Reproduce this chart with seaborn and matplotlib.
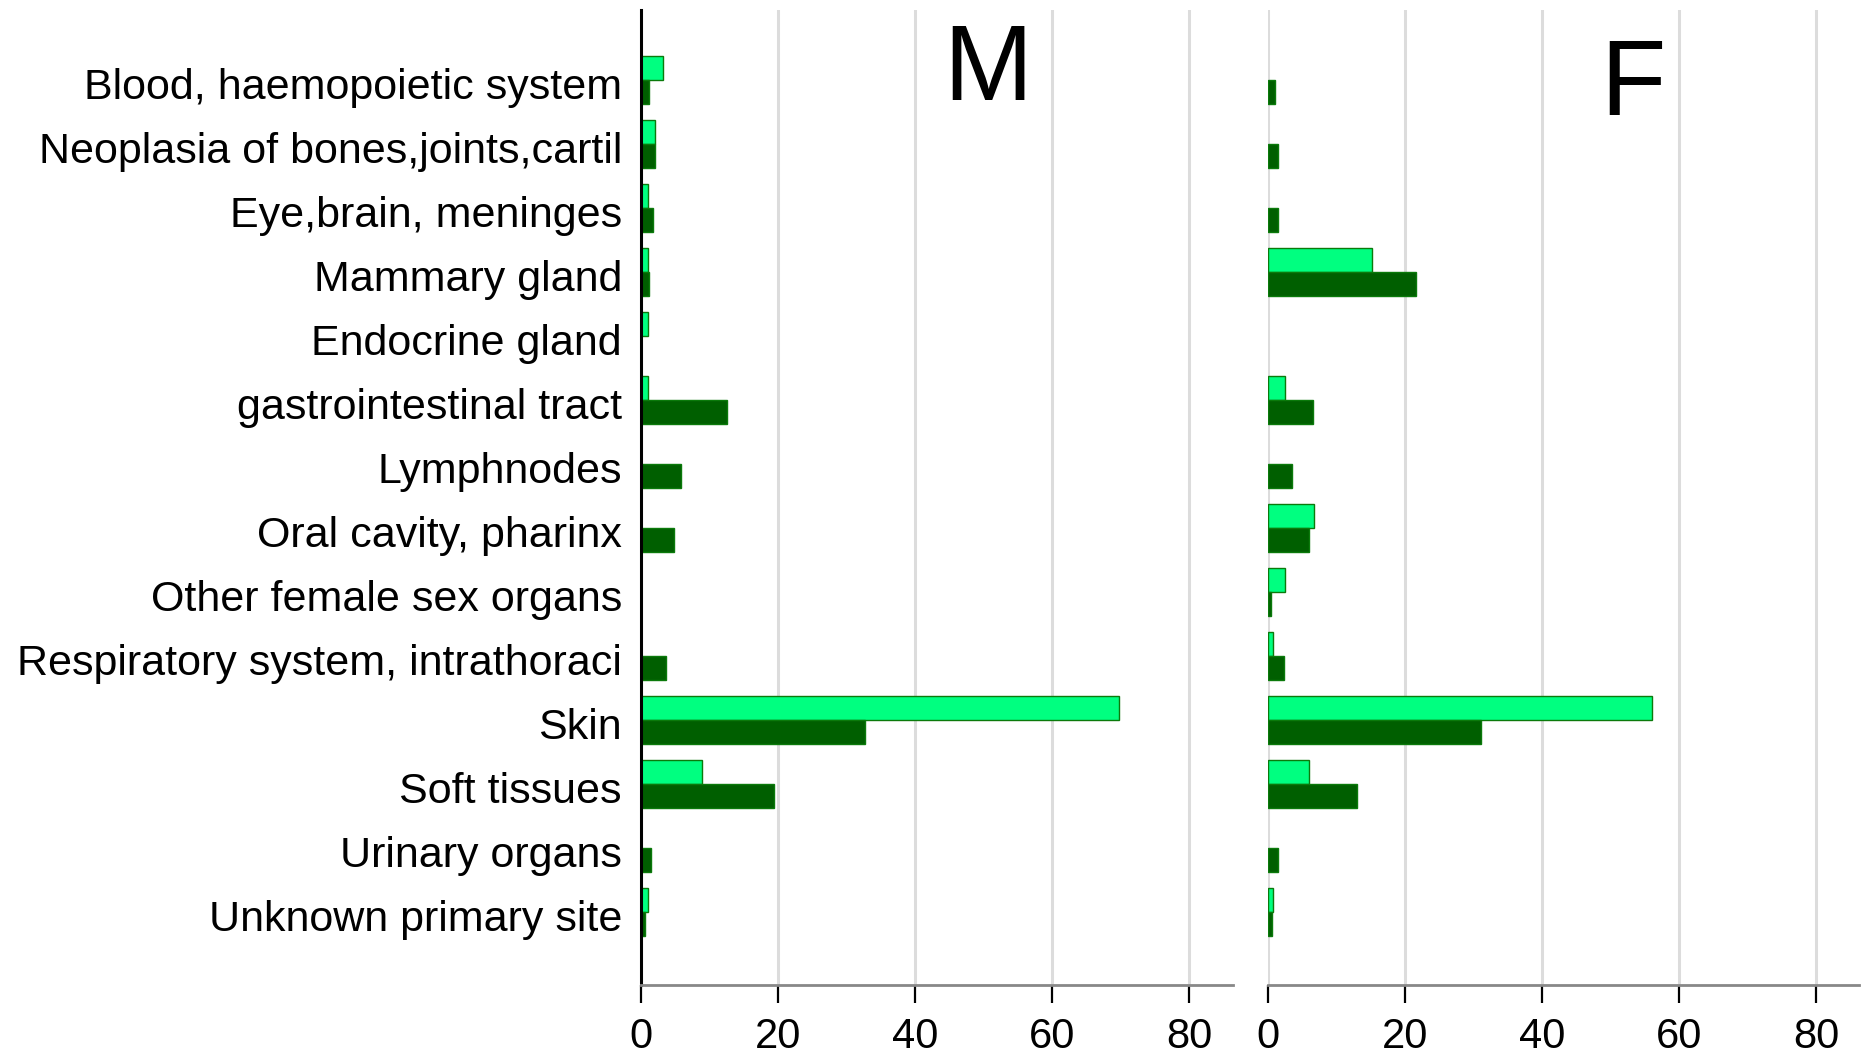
import numpy as np
import pandas as pd
import matplotlib
matplotlib.use("Agg")
import matplotlib.pyplot as plt
import matplotlib.transforms as mtransforms
import seaborn as sns

categories = [
    "Blood, haemopoietic system",
    "Neoplasia of bones,joints,cartil",
    "Eye,brain, meninges",
    "Mammary gland",
    "Endocrine gland",
    "gastrointestinal tract",
    "Lymphnodes",
    "Oral cavity, pharinx",
    "Other female sex organs",
    "Respiratory system, intrathoraci",
    "Skin",
    "Soft tissues",
    "Urinary organs",
    "Unknown primary site",
]
male_light = [3.2, 2.05, 0.9, 0.9, 0.9, 0.9, 0.0, 0.0, 0.0, 0.0, 69.7, 8.8, 0.0, 0.9]
male_dark = [1.07, 1.95, 1.7, 1.07, 0.0, 12.5, 5.75, 4.8, 0.0, 3.6, 32.7, 19.4, 1.4, 0.45]
female_light = [0.0, 0.0, 0.0, 15.1, 0.0, 2.4, 0.0, 6.7, 2.45, 0.74, 56.1, 5.87, 0.0, 0.74]
female_dark = [1.0, 1.45, 1.45, 21.5, 0.0, 6.5, 3.5, 6.0, 0.34, 2.28, 31.1, 12.9, 1.42, 0.57]
series_names = ["Series 1", "Series 2"]
panel_labels = ["M", "F"]
x_ticks = [0, 20, 40, 60, 80]

sns.set_theme(style="white")
plt.rcParams["font.family"] = ["Liberation Sans", "DejaVu Sans"]
plt.rcParams["text.color"] = "black"
plt.rcParams["xtick.color"] = "black"
plt.rcParams["ytick.color"] = "black"
plt.rcParams["xtick.labelcolor"] = "black"
plt.rcParams["ytick.labelcolor"] = "black"

rows = []
for sex, light, dark in [("M", male_light, male_dark), ("F", female_light, female_dark)]:
    for c, a, b in zip(categories, light, dark):
        rows.append(dict(sex=sex, category=c, series=series_names[0], value=a))
        rows.append(dict(sex=sex, category=c, series=series_names[1], value=b))
df = pd.DataFrame(rows)

fig = plt.figure(figsize=(18.63, 10.56), dpi=100)
axL = fig.add_axes([0.3443, 0.0672, 0.3173, 0.9233])
axR = fig.add_axes([0.6808, 0.0672, 0.3171, 0.9233])

palette = ["#00FF80", "#005F00"]
text_pos = {"M": (50.6, 0.32), "F": (53.2, 0.55)}

for ax, sex in [(axL, "M"), (axR, "F")]:
    sns.barplot(
        data=df[df["sex"] == sex], x="value", y="category", hue="series",
        order=categories, hue_order=series_names, palette=palette,
        orient="h", width=0.75, saturation=1, edgecolor="#0B7A0B",
        linewidth=1, legend=False, errorbar=None, ax=ax,
    )
    for p in ax.patches:
        if p.get_width() == 0:
            p.set_linewidth(0)
    ax.set_xlim(0, 86.3)
    ax.set_ylim(14.14, -1.09)
    ax.set_xticks(x_ticks)
    ax.set_xlabel("")
    ax.set_ylabel("")
    ax.xaxis.grid(True, color="#dcdcdc", linewidth=2.2)
    ax.yaxis.grid(False)
    ax.set_axisbelow(True)
    for s in ["top", "right"]:
        ax.spines[s].set_visible(False)
    ax.spines["bottom"].set_color("#888888")
    ax.spines["bottom"].set_linewidth(2)
    ax.tick_params(axis="x", bottom=True, length=13, width=1.6, color="black",
                   labelcolor="black", labelsize=30, pad=10, direction="out")
    x, y = text_pos[sex]
    ax.text(x, y, sex, fontsize=77, ha="center", va="baseline", color="black")

axL.spines["left"].set_color("black")
axL.spines["left"].set_linewidth(2.2)
axL.tick_params(axis="y", left=False, length=0, labelsize=31, pad=14,
                labelcolor="black")
shift = mtransforms.ScaledTranslation(0, -2.5 / 72, fig.dpi_scale_trans)
for lbl in axL.get_yticklabels():
    lbl.set_transform(lbl.get_transform() + shift)
axR.spines["left"].set_visible(False)
axR.tick_params(axis="y", left=False, labelleft=False, length=0)

fig.savefig("out.png", dpi=100)
